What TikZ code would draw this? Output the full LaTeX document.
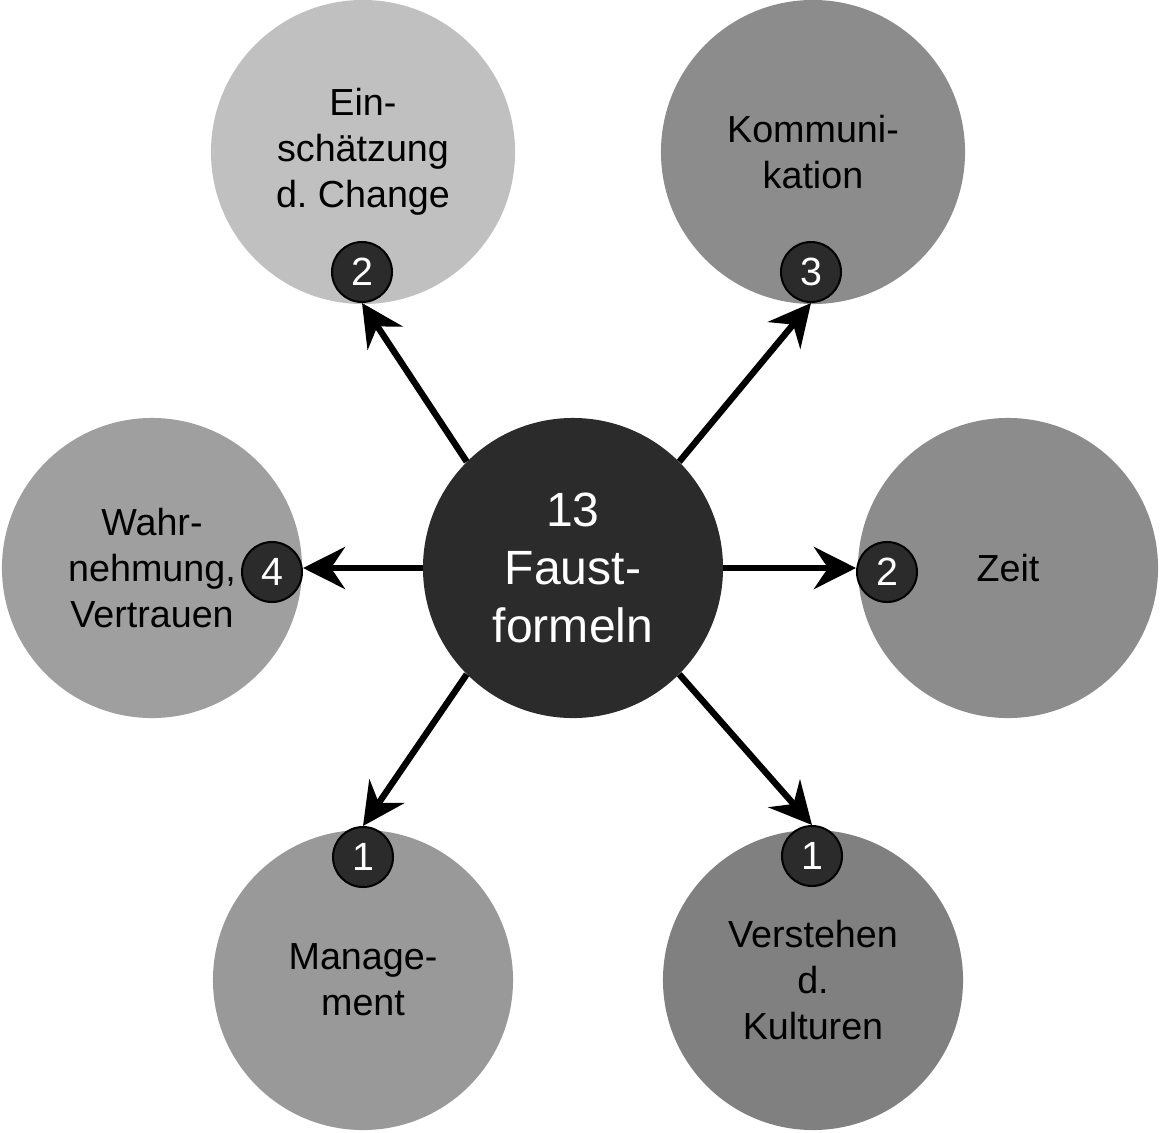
\documentclass[tikz,border=0pt]{standalone}
\usepackage{fontspec}
\setmainfont{Liberation Sans}
\usetikzlibrary{arrows.meta}
\definecolor{cTL}{HTML}{C0C0C0}
\definecolor{cTR}{HTML}{8C8C8C}
\definecolor{cL}{HTML}{9F9F9F}
\definecolor{cR}{HTML}{8C8C8C}
\definecolor{cBL}{HTML}{999999}
\definecolor{cBR}{HTML}{808080}
\definecolor{cDark}{HTML}{2B2B2B}
\frenchspacing
\begin{document}
\begin{tikzpicture}[x=0.025cm,y=-0.025cm,
  topic/.style={circle, minimum size=7.5cm, inner sep=0pt, align=center,
    font=\fontsize{26.8pt}{32.6pt}\selectfont, text=black},
  bigtopic/.style={topic, minimum size=7.6cm},
  hub/.style={circle, fill=cDark, minimum size=7.5cm, inner sep=0pt, align=center,
    text=white, font=\fontsize{34.2pt}{41.2pt}\selectfont},
  badge/.style={circle, fill=cDark, draw=black, line width=0.05cm, minimum size=1.5cm,
    inner sep=0pt, text=white, font=\fontsize{28pt}{30pt}\selectfont},
  arr/.style={line width=0.16cm, -{Stealth[length=1.05cm,width=1.05cm,inset=0.35cm]}}]
\useasboundingbox (0,0) rectangle (1160,1133);
\node[bigtopic, fill=cTL] (tl) at (363,152) {Ein-\\schätzung\\d.\ Change};
\node[bigtopic, fill=cTR] (tr) at (813,152) {Kommuni-\\kation};
\node[topic, fill=cL] (l) at (152,568) {Wahr-\\nehmung,\\Vertrauen};
\node[topic, fill=cR] (r) at (1008,568) {Zeit};
\node[topic, fill=cBL] (bl) at (363,980) {Manage-\\ment};
\node[topic, fill=cBR] (br) at (813,980) {Verstehen\\d.\\Kulturen};
\node[hub] (c) at (573,568) {13\\Faust-\\formeln};
\node[badge] (btl) at (362,272) {2};
\node[badge] (btr) at (811,272) {3};
\node[badge] (bl4) at (272,572) {4};
\node[badge] (br2) at (887,572) {2};
\node[badge] (bbl) at (363,857) {1};
\node[badge] (bbr) at (812,856) {1};
\draw[arr] (c.135) -- (btl.south);
\draw[arr] (c.45) -- (btr.south);
\draw[arr] (c.west) -- (c.west -| bl4.east);
\draw[arr] (c.east) -- (c.east -| br2.west);
\draw[arr] (c.225) -- (bbl.north);
\draw[arr] (c.-45) -- (bbr.north);
\end{tikzpicture}
\end{document}
